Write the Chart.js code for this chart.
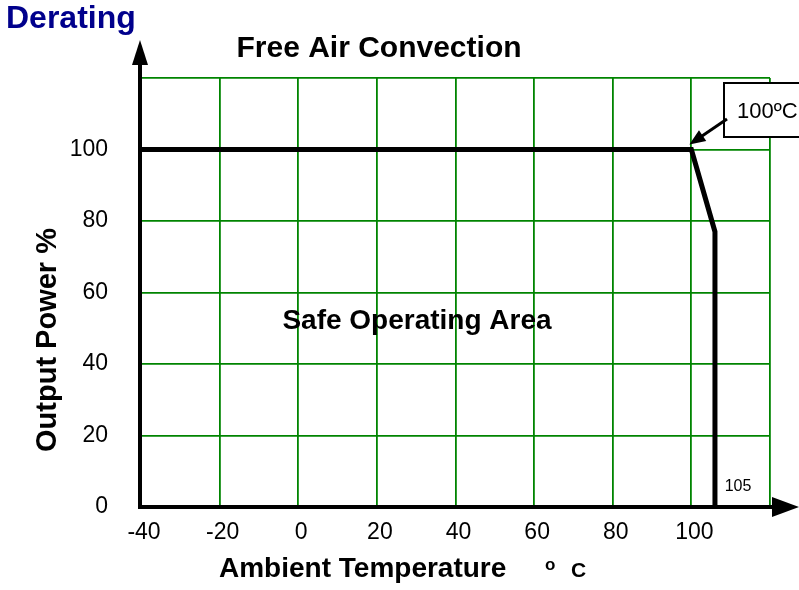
<!DOCTYPE html>
<html><head><meta charset="utf-8">
<script src="https://cdn.jsdelivr.net/npm/chart.js@4.4.1/dist/chart.umd.min.js"></script>
<style>html,body{margin:0;padding:0;background:#fff}#wrap{width:799px;height:590px;position:relative}</style>
</head><body><div id="wrap"><canvas id="c"></canvas></div>
<script>
// ---- data ----
const temperatures = [-40, 100, 106, 106];
const outputPower = [100, 100, 77, 0];
const xTicks = [-40, -20, 0, 20, 40, 60, 80, 100, 120];
const yTicks = [0, 20, 40, 60, 80, 100, 120];
const xTickLabels = ['-40', '-20', '0', '20', '40', '60', '80', '100', ''];
const yTickLabels = ['0', '20', '40', '60', '80', '100', ''];
const cornerTitle = 'Derating';
const chartTitle = 'Free Air Convection';
const xTitle = 'Ambient Temperature';
const xUnitDeg = 'o';
const xUnitC = 'C';
const yTitle = 'Output Power %';
const areaLabel = 'Safe Operating Area';
const calloutLabel = '100ºC';
const endLabel = '105';

const FONT = '"Liberation Sans", Arial, Helvetica, sans-serif';
const GRID = 'rgb(0,132,0)';

const decor = {
  id: 'decor',
  afterDraw(chart) {
    const ctx = chart.ctx;
    const xs = chart.scales.x, ys = chart.scales.y;
    const L = xs.getPixelForValue(-40), B = ys.getPixelForValue(0);
    ctx.save();
    // axes
    ctx.strokeStyle = '#000';
    ctx.fillStyle = '#000';
    ctx.lineWidth = 4;
    ctx.beginPath();
    ctx.moveTo(L - 1, B + 2); ctx.lineTo(L - 1, 64);
    ctx.moveTo(L - 3, B); ctx.lineTo(774, B);
    ctx.stroke();
    ctx.beginPath();
    ctx.moveTo(L - 9, 65); ctx.lineTo(L + 7, 65); ctx.lineTo(L - 1, 40); ctx.closePath(); ctx.fill();
    ctx.beginPath();
    ctx.moveTo(772, B - 10); ctx.lineTo(772, B + 10); ctx.lineTo(799, B); ctx.closePath(); ctx.fill();

    // texts
    ctx.textBaseline = 'alphabetic';
    ctx.textAlign = 'left';
    ctx.fillStyle = '#00008c';
    ctx.font = 'bold 32px ' + FONT;
    ctx.fillText(cornerTitle, 6, 28);

    ctx.fillStyle = '#000';
    ctx.textAlign = 'center';
    ctx.font = 'bold 30px ' + FONT;
    ctx.fillText(chartTitle, 379, 57);

    ctx.font = 'bold 28px ' + FONT;
    ctx.fillText(areaLabel, 417, 329);

    ctx.textAlign = 'left';
    ctx.font = 'bold 28px ' + FONT;
    ctx.fillText(xTitle, 219, 577);
    ctx.font = 'bold 17px ' + FONT;
    ctx.fillText(xUnitDeg, 545, 570);
    ctx.font = 'bold 21px ' + FONT;
    ctx.fillText(xUnitC, 571, 577);

    ctx.save();
    ctx.translate(56, 340);
    ctx.rotate(-Math.PI / 2);
    ctx.textAlign = 'center';
    ctx.font = 'bold 29px ' + FONT;
    ctx.fillText(yTitle, 0, 0);
    ctx.restore();

    // 105 label
    ctx.textAlign = 'center';
    ctx.font = '16px ' + FONT;
    ctx.fillText(endLabel, 738, 491);

    // callout box
    ctx.fillStyle = '#fff';
    ctx.fillRect(724, 83, 90, 54);
    ctx.strokeStyle = '#000';
    ctx.lineWidth = 2;
    ctx.strokeRect(724, 83, 90, 54);
    ctx.fillStyle = '#000';
    ctx.textAlign = 'left';
    ctx.font = '22px ' + FONT;
    ctx.fillText(calloutLabel, 737, 118);
    // callout arrow
    const tx = xs.getPixelForValue(100) - 2, ty = ys.getPixelForValue(100) - 5;
    const sx = 727, sy = 119;
    const ang = Math.atan2(ty - sy, tx - sx);
    ctx.lineWidth = 3;
    ctx.beginPath(); ctx.moveTo(sx, sy); ctx.lineTo(tx - 10 * Math.cos(ang), ty - 10 * Math.sin(ang)); ctx.stroke();
    ctx.beginPath();
    ctx.moveTo(tx, ty);
    ctx.lineTo(tx - 16 * Math.cos(ang) + 6.5 * Math.sin(ang), ty - 16 * Math.sin(ang) - 6.5 * Math.cos(ang));
    ctx.lineTo(tx - 16 * Math.cos(ang) - 6.5 * Math.sin(ang), ty - 16 * Math.sin(ang) + 6.5 * Math.cos(ang));
    ctx.closePath(); ctx.fill();
    ctx.restore();
  }
};

new Chart(document.getElementById('c'), {
  type: 'scatter',
  data: {
    datasets: [{
      data: temperatures.map((t, i) => ({ x: t, y: outputPower[i] })),
      showLine: true,
      borderColor: '#000',
      borderWidth: 5,
      pointRadius: 0,
      borderJoinStyle: 'miter',
      fill: false,
      tension: 0
    }]
  },
  options: {
    responsive: true,
    maintainAspectRatio: false,
    animation: false,
    layout: { padding: { top: 78, right: 29, left: 0, bottom: 0 } },
    plugins: { legend: { display: false }, tooltip: { enabled: false }, title: { display: false } },
    scales: {
      x: {
        type: 'linear', min: -40, max: 120,
        afterBuildTicks: s => { s.ticks = xTicks.map(v => ({ value: v })); },
        afterFit: s => { s.height = 83; },
        grid: { color: GRID, lineWidth: 1.8, drawTicks: false },
        border: { display: false },
        ticks: { padding: 12, color: '#000', font: { family: FONT, size: 23 }, maxRotation: 0, autoSkip: false,
                 labelOffset: 3, callback: (v, i) => xTickLabels[i] }
      },
      y: {
        type: 'linear', min: 0, max: 120,
        afterBuildTicks: s => { s.ticks = yTicks.map(v => ({ value: v })); },
        afterFit: s => { s.width = 141; },
        grid: { color: GRID, lineWidth: 1.8, drawTicks: false },
        border: { display: false },
        ticks: { padding: 33, color: '#000', font: { family: FONT, size: 23 }, autoSkip: false,
                 callback: (v, i) => yTickLabels[i] }
      }
    }
  },
  plugins: [decor]
});
</script>
</body></html>
